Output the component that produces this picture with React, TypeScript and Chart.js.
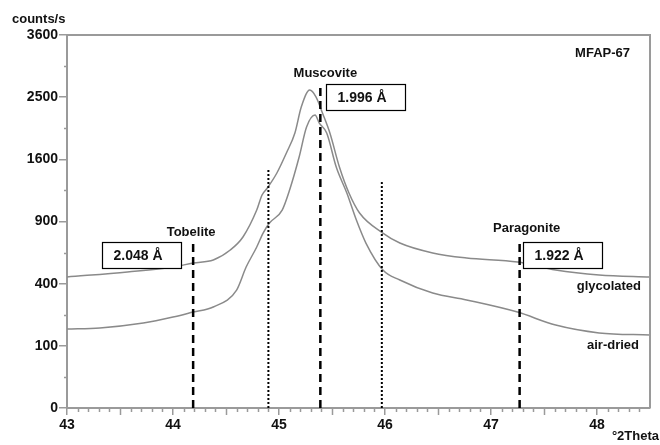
import React, { useEffect, useRef } from "react";
import { Chart, registerables } from "chart.js";

Chart.register(...registerables);

// ---- data (°2Theta vs counts/s) ----
const THETA_GLY = [43.0, 43.57, 44.0, 44.19, 44.38, 44.54, 44.66, 44.79, 44.84, 44.89, 44.98, 45.07, 45.15, 45.21, 45.29, 45.35, 45.41, 45.48, 45.57, 45.66, 45.76, 45.98, 46.14, 46.45, 46.77, 47.25, 47.61, 48.02, 48.5];
const COUNTS_GLY = [444, 479, 514, 544, 567, 646, 757, 1014, 1174, 1252, 1429, 1683, 1957, 2344, 2616, 2502, 2252, 1957, 1503, 1196, 984, 792, 704, 622, 582, 551, 493, 458, 444];

const THETA_AIR = [43.0, 43.31, 43.72, 44.0, 44.19, 44.38, 44.6, 44.69, 44.79, 44.85, 44.91, 45.03, 45.1, 45.19, 45.26, 45.34, 45.38, 45.45, 45.54, 45.64, 45.73, 45.82, 45.98, 46.14, 46.45, 46.77, 47.25, 47.61, 48.02, 48.5];
const COUNTS_AIR = [161, 166, 187, 214, 238, 264, 360, 514, 671, 792, 885, 1014, 1230, 1630, 2043, 2221, 2101, 1957, 1503, 1196, 914, 704, 493, 424, 342, 302, 238, 178, 146, 138];

const MARKER_THETA = [44.19, 44.9, 45.39, 45.97, 47.27];
const MARKER_TOP = [704, 1466, 2699, 1321, 704];
const MARKER_KIND = ["dashed", "dotted", "dashed", "dotted", "dashed"];

const MINERAL_NAMES = ["Tobelite", "", "Muscovite", "", "Paragonite"];
const D_SPACINGS = ["2.048 Å", "", "1.996 Å", "", "1.922 Å"];

const X_TICKS = [43, 44, 45, 46, 47, 48];
const Y_TICKS = [0, 100, 400, 900, 1600, 2500, 3600];
const Y_MINOR_TICKS = [25, 225, 625, 1225, 2025, 3025];

const SAMPLE = "MFAP-67";
const SERIES_NAMES = ["glycolated", "air-dried"];
const Y_TITLE = "counts/s";
const X_TITLE = "°2Theta";

const FONT = "'Liberation Sans', Arial, Helvetica, sans-serif";
const AXIS = "#9a9a9a";
const CURVE = "#8a8a8a";
const TEXT = "#111";

export default function App() {
  const ref = useRef<HTMLCanvasElement>(null);

  useEffect(() => {
    const canvas = ref.current;
    if (!canvas) return;
    const sq = (v: number) => Math.sqrt(v);
    const series = (th: number[], ct: number[]) => th.map((t, i) => ({ x: t, y: sq(ct[i]) }));

    const markerSets = MARKER_THETA.map((t, i) => ({
      label: "m" + i,
      data: [
        { x: t, y: 0 },
        { x: t, y: sq(MARKER_TOP[i]) },
      ],
      borderColor: "#000",
      borderWidth: MARKER_KIND[i] === "dashed" ? 2.5 : 2,
      borderDash: MARKER_KIND[i] === "dashed" ? [8, 5] : [2, 2],
      pointRadius: 0,
      fill: false,
      tension: 0,
    }));

    const framePlugin = {
      id: "frame",
      afterDatasetsDraw(chart: any) {
        const { ctx, chartArea: a, scales } = chart;
        const x = scales.x;
        const y = scales.y;
        ctx.save();
        ctx.strokeStyle = AXIS;
        ctx.lineWidth = 2;
        ctx.beginPath();
        ctx.moveTo(a.left, a.top);
        ctx.lineTo(a.right, a.top);
        ctx.lineTo(a.right, a.bottom);
        ctx.stroke();

        ctx.lineWidth = 1.5;
        ctx.beginPath();
        for (const v of Y_MINOR_TICKS) {
          const py = Math.round(y.getPixelForValue(sq(v))) + 0.5;
          ctx.moveTo(a.left - 3, py);
          ctx.lineTo(a.left, py);
        }
        for (let k = 1; k < 55; k++) {
          if (k % 10 === 0) continue;
          const v = 43 + k / 10;
          const px = Math.round(x.getPixelForValue(v)) + 0.5;
          const len = k % 5 === 0 ? 7 : 4;
          ctx.moveTo(px, a.bottom);
          ctx.lineTo(px, a.bottom + len);
        }
        ctx.stroke();

        // annotations
        const meta = MARKER_THETA.map((t, i) => ({
          px: x.getPixelForValue(t),
          top: y.getPixelForValue(sq(MARKER_TOP[i])),
        }));
        ctx.fillStyle = TEXT;
        ctx.textBaseline = "middle";
        ctx.font = `bold 13px ${FONT}`;
        ctx.textAlign = "center";
        const nameOff = [
          [-2, -11],
          [0, 0],
          [5, -12],
          [0, 0],
          [7, -15],
        ];
        const boxOff = [-91, 0, 6, 0, 3];
        MINERAL_NAMES.forEach((n, i) => {
          if (!n) return;
          ctx.fillText(n, meta[i].px + nameOff[i][0], meta[i].top + nameOff[i][1]);
        });
        D_SPACINGS.forEach((d, i) => {
          if (!d) return;
          const bx = Math.round(meta[i].px + boxOff[i]) + 0.5;
          const by = Math.round(meta[i].top - 1) + 0.5;
          ctx.fillStyle = "#fff";
          ctx.fillRect(bx, by, 79, 26);
          ctx.strokeStyle = "#000";
          ctx.lineWidth = 1.2;
          ctx.strokeRect(bx, by, 79, 26);
          ctx.fillStyle = TEXT;
          ctx.font = `bold 14px ${FONT}`;
          ctx.textAlign = "left";
          ctx.fillText(d, bx + 11, by + 13.5);
        });

        ctx.font = `bold 13px ${FONT}`;
        ctx.textAlign = "right";
        ctx.fillText(SAMPLE, 630, 53);
        ctx.fillText(SERIES_NAMES[0], 641, 286);
        ctx.fillText(SERIES_NAMES[1], 639, 345);
        ctx.fillText(X_TITLE, 659, 436);
        ctx.textAlign = "left";
        ctx.fillText(Y_TITLE, 12, 19);
        ctx.restore();
      },
    };

    const tickFont = { family: FONT, size: 14, weight: "bold" as const };

    const curve = (label: string, th: number[], ct: number[]) => ({
      label,
      data: series(th, ct),
      borderColor: CURVE,
      borderWidth: 1.5,
      pointRadius: 0,
      fill: false,
      cubicInterpolationMode: "monotone",
    });

    const chart = new Chart(canvas, {
      type: "line",
      data: {
        datasets: [
          ...markerSets,
          curve(SERIES_NAMES[0], THETA_GLY, COUNTS_GLY),
          curve(SERIES_NAMES[1], THETA_AIR, COUNTS_AIR),
        ] as any,
      },
      options: {
        responsive: true,
        maintainAspectRatio: false,
        animation: false,
        parsing: false as any,
        layout: { padding: { top: 35, right: 10, left: 0, bottom: 0 } },
        plugins: { legend: { display: false }, tooltip: { enabled: false } },
        scales: {
          x: {
            type: "linear",
            min: 43,
            max: 48.5,
            afterBuildTicks: (s: any) => {
              s.ticks = X_TICKS.map((v) => ({ value: v }));
            },
            afterFit: (s: any) => {
              s.height = 37;
            },
            ticks: {
              font: tickFont,
              color: "#111",
              padding: 2,
              maxRotation: 0,
              autoSkip: false,
              callback: (v: any) => String(v),
            },
            grid: { drawOnChartArea: false, drawTicks: true, tickLength: 7, color: AXIS, lineWidth: 1.5 },
            border: { color: AXIS, width: 2 },
          },
          y: {
            type: "linear",
            min: 0,
            max: 60,
            afterBuildTicks: (s: any) => {
              s.ticks = Y_TICKS.map((v) => ({ value: Math.sqrt(v) }));
            },
            afterFit: (s: any) => {
              s.width = 67;
            },
            ticks: {
              font: tickFont,
              color: "#111",
              padding: 1,
              autoSkip: false,
              callback: (v: any) => String(Math.round(Number(v) * Number(v))),
            },
            grid: { drawOnChartArea: false, drawTicks: true, tickLength: 8, color: AXIS, lineWidth: 1.5 },
            border: { color: AXIS, width: 2 },
          },
        },
      },
      plugins: [framePlugin],
    });
    return () => chart.destroy();
  }, []);

  return (
    <div style={{ position: "fixed", left: 0, top: 0, width: 660, height: 445, background: "#fff" }}>
      <canvas ref={ref} />
    </div>
  );
}
